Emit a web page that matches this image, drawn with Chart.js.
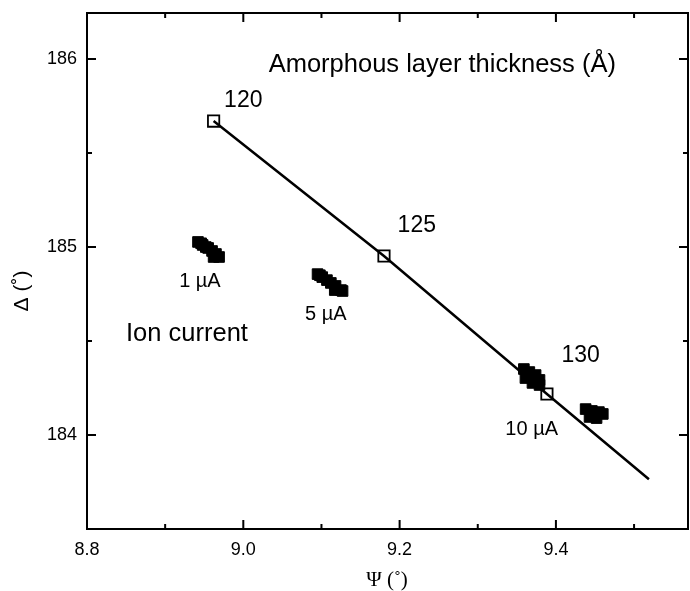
<!DOCTYPE html>
<html>
<head>
<meta charset="utf-8">
<script src="https://cdn.jsdelivr.net/npm/chart.js"></script>
<style>
  html, body { margin: 0; padding: 0; background: #fff; }
  #wrap { width: 690px; height: 591px; }
  canvas { display: block; }
</style>
</head>
<body>
<div id="wrap"><canvas id="chart" width="690" height="591"></canvas></div>
<script>
// thickness curve (Psi, Delta)
const curveX = [8.962, 9.180, 9.3885, 9.519];
const curveY = [185.67, 184.952, 184.218, 183.765];

// open squares: amorphous layer thickness 120, 125, 130 A
const thickX = [8.962, 9.180, 9.3885];
const thickY = [185.67, 184.952, 184.218];

// measured points for each ion current
const ion1X = [8.942, 8.946, 8.948, 8.952, 8.955, 8.960, 8.965, 8.969, 8.962];
const ion1Y = [185.027, 185.020, 185.011, 185.0, 184.995, 184.979, 184.963, 184.947, 184.947];
const ion5X = [9.095, 9.098, 9.101, 9.107, 9.112, 9.118, 9.125, 9.127, 9.117];
const ion5Y = [184.856, 184.850, 184.840, 184.824, 184.809, 184.793, 184.771, 184.766, 184.771];
const ion10X = [9.359, 9.366, 9.374, 9.379, 9.370, 9.361, 9.379];
const ion10Y = [184.351, 184.335, 184.319, 184.293, 184.277, 184.303, 184.266];
const ionHiX = [9.438, 9.446, 9.455, 9.460, 9.443, 9.452];
const ionHiY = [184.138, 184.128, 184.122, 184.112, 184.096, 184.090];

// axis ticks
const xTicks = [8.8, 9.0, 9.2, 9.4];
const xMinor = [8.9, 9.1, 9.3, 9.5];
const yTicks = [184, 185, 186];
const yMinor = [184.5, 185.5];

// text notes inside the plot (data coordinates)
const notes = [
  { text: "Amorphous layer thickness (Å)", x: 9.2546, y: 185.968, size: 25.5 },
  { text: "120", x: 9.000, y: 185.779, size: 23 },
  { text: "125", x: 9.222, y: 185.112, size: 23 },
  { text: "130", x: 9.4317, y: 184.423, size: 23 },
  { text: "1 \u00b5A", x: 8.9445, y: 184.816, size: 20 },
  { text: "5 \u00b5A", x: 9.1056, y: 184.641, size: 20 },
  { text: "10 \u00b5A", x: 9.369, y: 184.029, size: 20 },
  { text: "Ion current", x: 8.9279, y: 184.537, size: 25.5 }
];

const pts = (xs, ys) => xs.map((x, i) => ({ x: x, y: ys[i] }));
const SANS = "'Liberation Sans', Arial, Helvetica, sans-serif";

const ionStyle = {
  showLine: false,
  pointStyle: "rect",
  pointRadius: 7.5,
  pointBackgroundColor: "#000",
  pointBorderColor: "#000",
  pointBorderWidth: 1
};

const framePlugin = {
  id: "frame",
  afterDraw(chart) {
    const ctx = chart.ctx;
    const a = chart.chartArea;
    const xs = chart.scales.x, ys = chart.scales.y;
    ctx.save();
    ctx.strokeStyle = "#000";
    ctx.lineWidth = 2;
    ctx.strokeRect(a.left, a.top, a.right - a.left, a.bottom - a.top);

    const tick = (vals, len, axis) => {
      vals.forEach(v => {
        ctx.beginPath();
        if (axis === "x") {
          const p = xs.getPixelForValue(v);
          ctx.moveTo(p, a.bottom); ctx.lineTo(p, a.bottom - len);
          ctx.moveTo(p, a.top); ctx.lineTo(p, a.top + len);
        } else {
          const p = ys.getPixelForValue(v);
          ctx.moveTo(a.left, p); ctx.lineTo(a.left + len, p);
          ctx.moveTo(a.right, p); ctx.lineTo(a.right - len, p);
        }
        ctx.stroke();
      });
    };
    tick(xTicks, 9, "x");
    tick(xMinor, 5, "x");
    tick(yTicks, 9, "y");
    tick(yMinor, 5, "y");

    ctx.fillStyle = "#000";
    ctx.textAlign = "center";
    ctx.textBaseline = "middle";
    notes.forEach(n => {
      ctx.font = n.size + "px " + SANS;
      ctx.fillText(n.text, xs.getPixelForValue(n.x), ys.getPixelForValue(n.y));
    });

    // axis titles
    ctx.font = "21px 'Liberation Serif', 'Times New Roman', serif";
    ctx.fillText("\u03a8 (\u02da)", 387, 580);
    ctx.save();
    ctx.translate(22, 291);
    ctx.rotate(-Math.PI / 2);
    ctx.font = "21px " + SANS;
    ctx.fillText("\u0394 (\u02da)", 0, 0);
    ctx.restore();
    ctx.restore();
  }
};

new Chart(document.getElementById("chart"), {
  type: "scatter",
  data: {
    datasets: [
      { data: pts(curveX, curveY), showLine: true, borderColor: "#000", borderWidth: 2.5, pointRadius: 0, tension: 0 },
      { data: pts(ion1X, ion1Y), ...ionStyle },
      { data: pts(ion5X, ion5Y), ...ionStyle },
      { data: pts(ion10X, ion10Y), ...ionStyle },
      { data: pts(ionHiX, ionHiY), ...ionStyle },
      {
        data: pts(thickX, thickY), showLine: false, pointStyle: "rect", pointRadius: 8,
        pointBackgroundColor: "#fff", pointBorderColor: "#000", pointBorderWidth: 1.8
      }
    ]
  },
  options: {
    responsive: false,
    animation: false,
    devicePixelRatio: 1,
    layout: { autoPadding: false, padding: { top: 13, right: 2, left: 0, bottom: 0 } },
    plugins: { legend: { display: false }, tooltip: { enabled: false } },
    scales: {
      x: {
        type: "linear", min: 8.8, max: 9.569,
        grid: { display: false }, border: { display: false },
        afterBuildTicks: s => { s.ticks = xTicks.map(v => ({ value: v })); },
        afterFit: s => { s.height = 62; s.paddingLeft = 0; s.paddingRight = 0; },
        ticks: { color: "#000", padding: 2, font: { family: SANS, size: 18 }, callback: v => Number(v).toFixed(1) }
      },
      y: {
        type: "linear", min: 183.5, max: 186.245,
        grid: { display: false }, border: { display: false },
        afterBuildTicks: s => { s.ticks = yTicks.map(v => ({ value: v })); },
        afterFit: s => { s.width = 87; s.paddingTop = 0; s.paddingBottom = 0; },
        ticks: { color: "#000", padding: 2, font: { family: SANS, size: 18 }, callback: v => String(v) }
      }
    }
  },
  plugins: [framePlugin]
});
</script>
</body>
</html>
